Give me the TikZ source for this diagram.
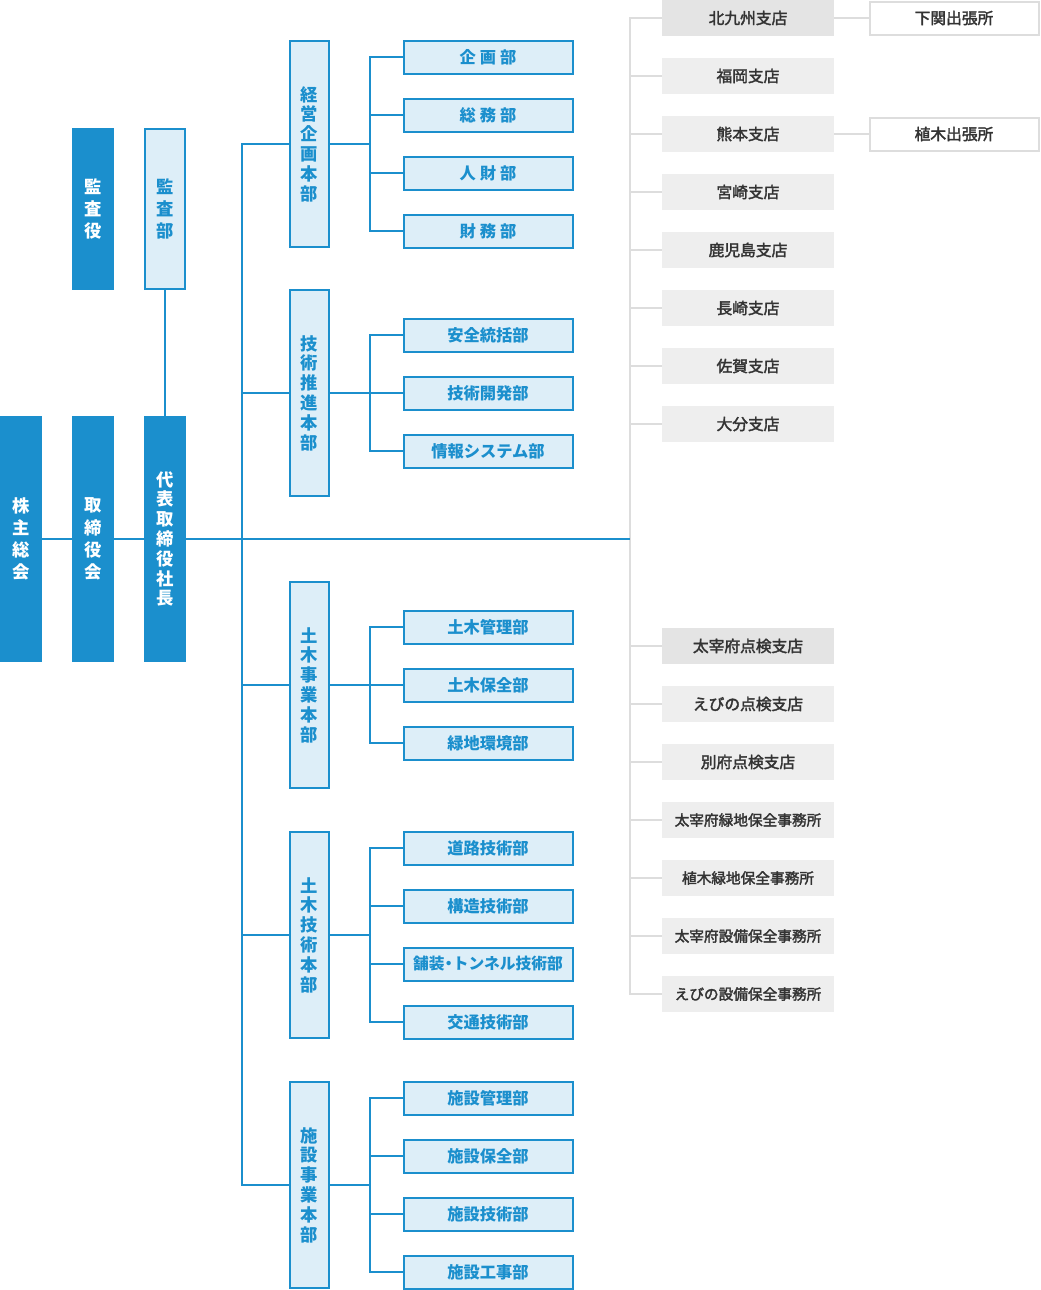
\documentclass[tikz,border=0pt]{standalone}
\usepackage{fontspec}
\setmainfont{Noto Sans CJK JP}
\newfontfamily\medfont{Noto Sans CJK JP}[FakeBold=2.2]
\definecolor{corp}{HTML}{1B8FCD}
\definecolor{pale}{HTML}{DDEEF8}
\definecolor{rulegray}{HTML}{DDDDDD}
\definecolor{shade}{HTML}{EEEEEE}
\definecolor{shadedk}{HTML}{E4E4E4}
\definecolor{ink}{HTML}{333333}
\tikzset{
  topbox/.style={fill=corp, text=white, inner sep=0pt, align=center,
    font=\bfseries\fontsize{13}{16.7}\selectfont, minimum width=31.5pt, minimum height=184.5pt},
  auditbox/.style={topbox, minimum height=121.5pt},
  divbox/.style={draw=corp, line width=1.5pt, fill=pale, text=corp, inner sep=0pt, align=center,
    font=\bfseries\fontsize{13}{14.85}\selectfont, minimum width=29.25pt, minimum height=154.5pt},
  subbox/.style={draw=corp, line width=1.5pt, fill=pale, text=corp, inner sep=0pt,
    font=\bfseries\fontsize{12.2}{14}\selectfont, minimum width=126.75pt, minimum height=24.75pt},
  branchbox/.style={fill=shade, text=ink, inner sep=0pt,
    font=\medfont\fontsize{11.8}{14}\selectfont, minimum width=129pt, minimum height=27pt},
  officebox/.style={draw=rulegray, line width=1.5pt, fill=white, text=ink, inner sep=0pt,
    font=\medfont\fontsize{11.8}{14}\selectfont, minimum width=126.75pt, minimum height=24.75pt},
  blueline/.style={draw=corp, line width=1.5pt},
  grayline/.style={draw=rulegray, line width=1.5pt}
}
\begin{document}
\begin{tikzpicture}[x=0.75pt, y=-0.75pt]
\useasboundingbox (0,0) rectangle (1040,1290);
\coordinate (sp) at (242,0);
\coordinate (ax) at (370,0);
\coordinate (rl) at (630,0);
% top management
\node[topbox] (kabu) at (21,539) {株\\主\\総\\会};
\node[topbox] (tori) at (93,539) {取\\締\\役\\会};
\node[topbox, font=\bfseries\fontsize{13}{14.85}\selectfont] (daihyo) at (165,539) {代\\表\\取\\締\\役\\社\\長};
\node[auditbox] (kansayaku) at (93,209) {監\\査\\役};
\node[auditbox, draw=corp, line width=1.5pt, fill=pale, text=corp, minimum width=30pt, minimum height=120pt] (kansabu) at (165,209) {監\\査\\部};
% divisions
\foreach \i/\y/\t in {1/144/{経\\営\\企\\画\\本\\部}, 2/393/{技\\術\\推\\進\\本\\部},
  3/685/{土\\木\\事\\業\\本\\部}, 4/935/{土\\木\\技\\術\\本\\部}, 5/1185/{施\\設\\事\\業\\本\\部}}
  \node[divbox] (d\i) at (309,\y) {\t};
% departments
\foreach \i/\y/\t in {1/57/{企\hspace{3pt}画\hspace{3pt}部}, 2/115/{総\hspace{3pt}務\hspace{3pt}部},
  3/173/{人\hspace{3pt}財\hspace{3pt}部}, 4/231/{財\hspace{3pt}務\hspace{3pt}部},
  5/335/安全統括部, 6/393/技術開発部, 7/451/情報システム部,
  8/627/土木管理部, 9/685/土木保全部, 10/743/緑地環境部,
  11/848/道路技術部, 12/906/構造技術部, 13/964/{\fontsize{11.8}{14}\selectfont 舗装{\kern-2.8pt}・{\kern-2.8pt}トンネル技術部}, 14/1022/交通技術部,
  15/1098/施設管理部, 16/1156/施設保全部, 17/1214/施設技術部, 18/1272/施設工事部}
  \node[subbox] (c\i) at (488,\y) {\t};
% branches
\foreach \i/\y/\t in {1/18/北九州支店, 2/76/福岡支店, 3/134/熊本支店, 4/192/宮崎支店,
  5/250/鹿児島支店, 6/308/長崎支店, 7/366/佐賀支店, 8/424/大分支店,
  9/646/太宰府点検支店, 10/704/えびの点検支店, 11/762/別府点検支店}
  \node[branchbox] (b\i) at (748,\y) {\t};
\foreach \i/\y/\t in {12/820/太宰府緑地保全事務所, 13/878/植木緑地保全事務所,
  14/936/太宰府設備保全事務所, 15/994/えびの設備保全事務所}
  \node[branchbox, font=\medfont\fontsize{11}{14}\selectfont] (b\i) at (748,\y) {\t};
\node[branchbox, fill=shadedk] at (b1) {北九州支店};
\node[branchbox, fill=shadedk] at (b9) {太宰府点検支店};
\node[officebox] (o1) at (954,18) {下関出張所};
\node[officebox] (o2) at (954,134) {植木出張所};
% connectors
\draw[grayline] (b1.west) -| (rl |- b15.west) -- (b15.west);
\foreach \i in {2,...,14}
  \draw[grayline] (b\i.west) -- (rl |- b\i.west);
\draw[grayline] (b1) -- (o1);
\draw[grayline] (b3) -- (o2);
\draw[blueline] (kabu) -- (tori) -- (daihyo) -- (rl |- daihyo);
\draw[blueline] (kansabu) -- (daihyo);
\draw[blueline] (d1.west) -| (sp |- d5.west) -- (d5.west);
\foreach \i in {2,3,4}
  \draw[blueline] (d\i.west) -- (sp |- d\i.west);
\foreach \d/\a/\b in {1/1/4, 2/5/7, 3/8/10, 4/11/14, 5/15/18}{
  \draw[blueline] (d\d.east) -- (ax |- d\d.east);
  \draw[blueline] (c\a.west) -| (ax |- c\b.west) -- (c\b.west);
}
\foreach \i in {2,3,6,9,12,13,16,17}
  \draw[blueline] (c\i.west) -- (ax |- c\i.west);
\end{tikzpicture}
\end{document}
